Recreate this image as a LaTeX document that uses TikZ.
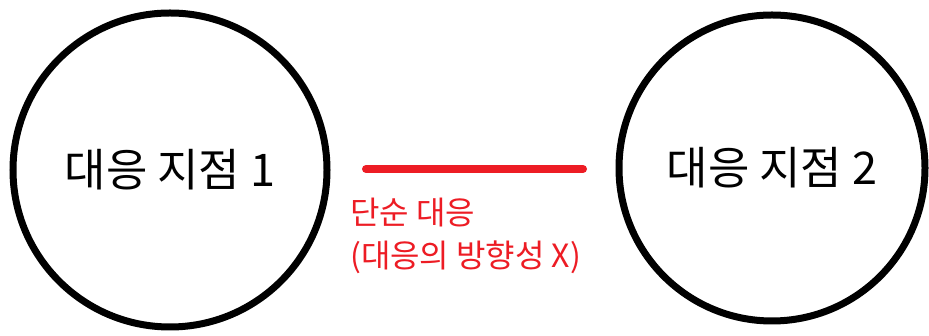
\documentclass[tikz,border=0pt]{standalone}
\usepackage{fontspec}
\setmainfont{Noto Sans CJK KR}
\definecolor{lred}{RGB}{237,28,36}
\begin{document}
\begin{tikzpicture}[x=1pt,y=1pt,
  spot/.style={circle,draw=black,line width=7pt,minimum size=#1,inner sep=0pt,font=\fontsize{45}{50}\selectfont},
  redtxt/.style={text=lred,font=\fontsize{32}{43}\selectfont,align=left,anchor=north west,inner sep=0pt}]
\useasboundingbox (0,0) rectangle (929,336);
\fill[white] (0,0) rectangle (929,336);
\node[spot=314pt] (a) at (170,166) {대응 지점 1};
\node[spot=306pt] (b) at (772,168) {대응 지점 2};
\coordinate (l1) at (366,167);
\coordinate (l2) at (583,167);
\draw[lred,line width=8pt,line cap=round] (l1) -- (l2);
\node[redtxt] (t) at (350,138) {단순 대응\\(대응의 방향성 X)};
\end{tikzpicture}
\end{document}
